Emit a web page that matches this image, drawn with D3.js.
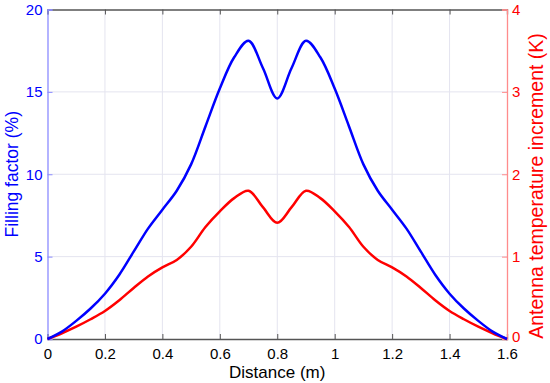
<!DOCTYPE html>
<html>
<head>
<meta charset="utf-8">
<script src="https://cdn.jsdelivr.net/npm/d3@7"></script>
<style>
  body { margin: 0; background: #fff; }
  text { font-family: "Liberation Sans", Arial, sans-serif; }
</style>
</head>
<body>
<div id="chart-container"></div>
<script>
// distance along the profile (m)
const distance = [
  0, 0.05, 0.1, 0.15, 0.2, 0.25, 0.3, 0.35, 0.4, 0.45, 0.5, 0.55, 0.6, 0.65, 0.7, 0.75, 0.8,
  0.85, 0.9, 0.95, 1.0, 1.05, 1.1, 1.15, 1.2, 1.25, 1.3, 1.35, 1.4, 1.45, 1.5, 1.55, 1.6,
];
// filling factor (%)
const fillingFactor = [
  0, 0.45, 1.1, 1.85, 2.75, 3.9, 5.3, 6.7, 7.85, 9.0, 10.6, 12.9, 15.2, 17.1, 18.1, 16.45, 14.6,
  16.45, 18.1, 17.1, 15.2, 12.9, 10.6, 9.0, 7.85, 6.7, 5.3, 3.9, 2.75, 1.85, 1.1, 0.45, 0,
];
// antenna temperature increment (K)
const tempIncrement = [
  0, 0.07, 0.15, 0.24, 0.34, 0.47, 0.62, 0.76, 0.87, 0.96, 1.12, 1.36, 1.55, 1.71, 1.8, 1.6, 1.41,
  1.6, 1.8, 1.71, 1.55, 1.36, 1.12, 0.96, 0.87, 0.76, 0.62, 0.47, 0.34, 0.24, 0.15, 0.07, 0,
];
const xTicks = [0, 0.2, 0.4, 0.6, 0.8, 1, 1.2, 1.4, 1.6];
const leftTicks = [0, 5, 10, 15, 20];
const rightTicks = [0, 1, 2, 3, 4];

const width = 550;
const height = 383;
const margin = {
  top: 9.5, right: 43, bottom: 44, left: 47.5,
};

const svg = d3.select('#chart-container')
  .append('svg')
  .attr('width', width)
  .attr('height', height);

const x = d3.scaleLinear()
  .domain([0, 1.6])
  .range([margin.left, width - margin.right]);
const yLeft = d3.scaleLinear()
  .domain([0, 20])
  .range([height - margin.bottom, margin.top]);
const yRight = d3.scaleLinear()
  .domain([0, 4])
  .range([height - margin.bottom, margin.top]);

const x0 = margin.left;
const x1 = width - margin.right;
const y0 = height - margin.bottom;
const y1 = margin.top;

// grid
const grid = svg.append('g').attr('stroke', '#e4e4ef').attr('stroke-width', 1);
grid.selectAll('.vg')
  .data(xTicks.slice(1, -1))
  .enter()
  .append('line')
  .attr('x1', (d) => x(d)).attr('x2', (d) => x(d))
  .attr('y1', y0).attr('y2', y1);
grid.selectAll('.hg')
  .data(leftTicks.slice(1, -1))
  .enter()
  .append('line')
  .attr('x1', x0).attr('x2', x1)
  .attr('y1', (d) => yLeft(d)).attr('y2', (d) => yLeft(d));

// bottom and top axes (inward ticks)
const bottomAxis = svg.append('g')
  .attr('transform', `translate(0,${y0})`)
  .call(d3.axisTop(x).tickValues(xTicks).tickSize(5).tickFormat(d3.format('~g')));
bottomAxis.select('.domain').attr('stroke', '#555').attr('stroke-width', 1.3);
bottomAxis.selectAll('.tick line').attr('stroke', '#555');
bottomAxis.selectAll('.tick text')
  .attr('y', 20)
  .attr('fill', '#000')
  .style('font-size', '15px');

const topAxis = svg.append('g')
  .attr('transform', `translate(0,${y1})`)
  .call(d3.axisBottom(x).tickValues(xTicks).tickSize(5).tickFormat(''));
topAxis.select('.domain').attr('stroke', '#555').attr('stroke-width', 1.3);
topAxis.selectAll('.tick line').attr('stroke', '#555');

// left axis (blue)
const leftAxis = svg.append('g')
  .attr('transform', `translate(${x0},0)`)
  .call(d3.axisRight(yLeft).tickValues(leftTicks).tickSize(5).tickFormat(d3.format('~g')));
leftAxis.select('.domain').attr('stroke', '#8c8cff').attr('stroke-width', 1.3);
leftAxis.selectAll('.tick line').attr('stroke', '#8c8cff');
leftAxis.selectAll('.tick text')
  .attr('x', -5)
  .attr('text-anchor', 'end')
  .attr('fill', '#0000ff')
  .style('font-size', '15px');

// right axis (red)
const rightAxis = svg.append('g')
  .attr('transform', `translate(${x1},0)`)
  .call(d3.axisLeft(yRight).tickValues(rightTicks).tickSize(5).tickFormat(d3.format('~g')));
rightAxis.select('.domain').attr('stroke', '#ff8c8c').attr('stroke-width', 1.3);
rightAxis.selectAll('.tick line').attr('stroke', '#ff8c8c');
rightAxis.selectAll('.tick text')
  .attr('x', 5)
  .attr('text-anchor', 'start')
  .attr('dy', (d) => (d === 0 ? '0.18em' : '0.32em'))
  .attr('fill', '#ff0000')
  .style('font-size', '15px');

// curves
const lineLeft = d3.line()
  .x((d, i) => x(distance[i]))
  .y((d) => yLeft(d))
  .curve(d3.curveCatmullRom.alpha(0.5));
const lineRight = d3.line()
  .x((d, i) => x(distance[i]))
  .y((d) => yRight(d))
  .curve(d3.curveCatmullRom.alpha(0.5));

svg.append('path')
  .attr('d', lineRight(tempIncrement))
  .attr('fill', 'none')
  .attr('stroke', '#ff0000')
  .attr('stroke-width', 2.5);
svg.append('path')
  .attr('d', lineLeft(fillingFactor))
  .attr('fill', 'none')
  .attr('stroke', '#0000ff')
  .attr('stroke-width', 2.5);

// axis titles
svg.append('text')
  .attr('x', (x0 + x1) / 2)
  .attr('y', 377.5)
  .attr('text-anchor', 'middle')
  .style('font-size', '17px')
  .text('Distance (m)');
svg.append('text')
  .attr('transform', `translate(18,${(y0 + y1) / 2}) rotate(-90)`)
  .attr('text-anchor', 'middle')
  .attr('fill', '#0000ff')
  .style('font-size', '17.5px')
  .text('Filling factor (%)');
svg.append('text')
  .attr('transform', `translate(543,186) rotate(-90)`)
  .attr('text-anchor', 'middle')
  .attr('fill', '#ff0000')
  .style('font-size', '19.5px')
  .text('Antenna temperature increment (K)');
</script>
</body>
</html>
